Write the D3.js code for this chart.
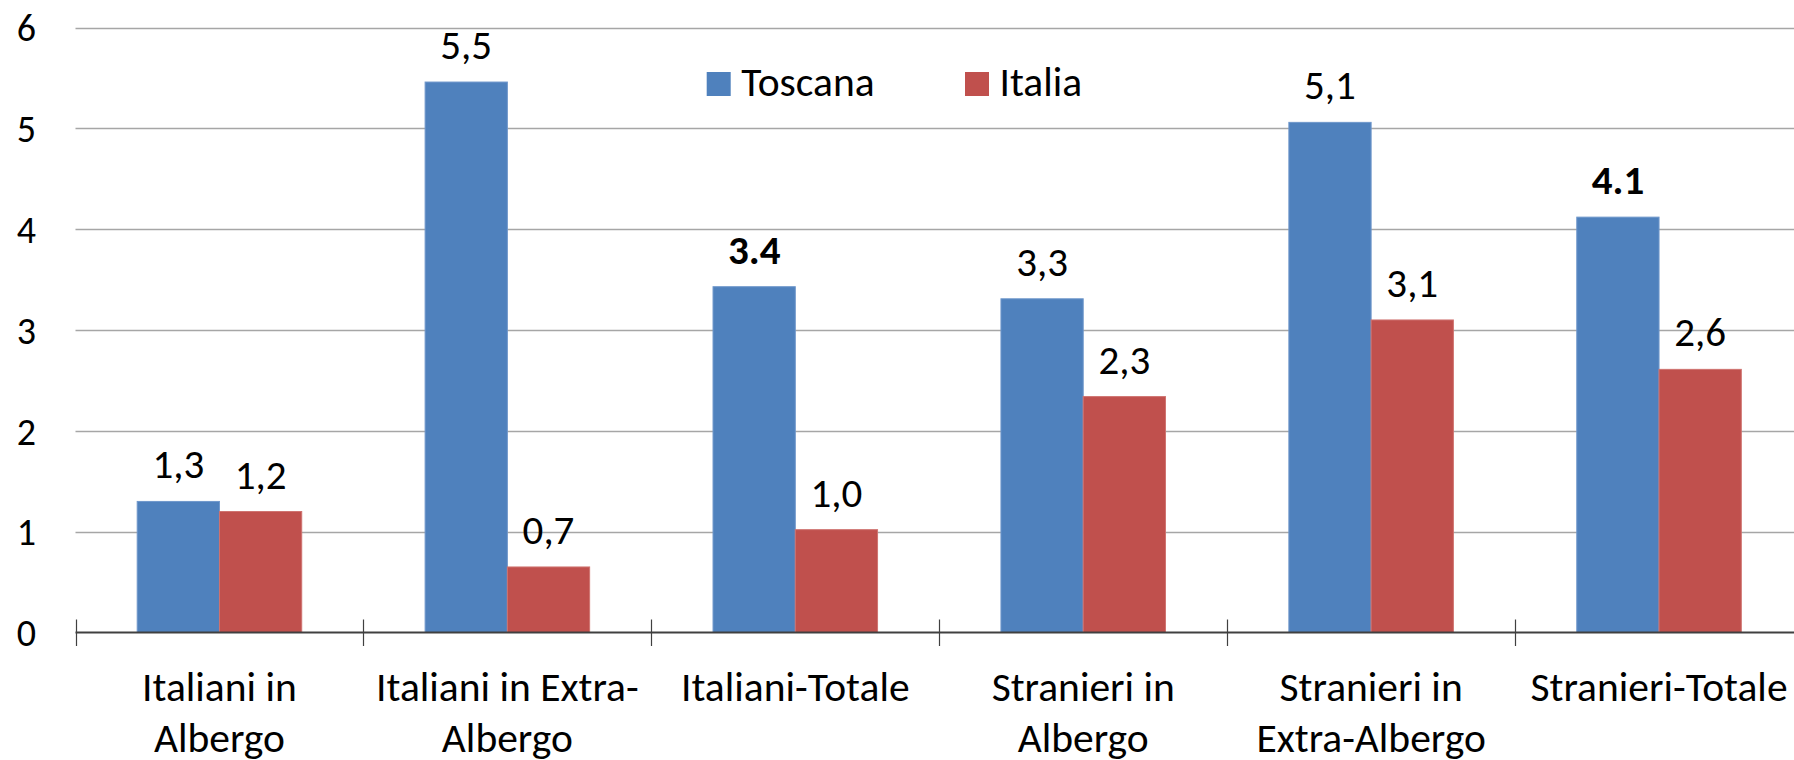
<!DOCTYPE html>
<html>
<head>
<meta charset="utf-8">
<script src="https://cdn.jsdelivr.net/npm/d3@7/dist/d3.min.js"></script>
<style>
  html, body { margin: 0; padding: 0; background: #fff; overflow: hidden; }
  svg { display: block; }
  text { font-family: Carlito, Lato, "Open Sans", sans-serif; fill: #000; }
</style>
</head>
<body>
<svg id="chart" width="1794" height="760"></svg>
<script>
// ---- data ----
const categories = ["Italiani in Albergo", "Italiani in Extra-Albergo", "Italiani-Totale",
                    "Stranieri in Albergo", "Stranieri in Extra-Albergo", "Stranieri-Totale"];
const categoryLines = [["Italiani in", "Albergo"], ["Italiani in Extra-", "Albergo"], ["Italiani-Totale"],
                       ["Stranieri in", "Albergo"], ["Stranieri in", "Extra-Albergo"], ["Stranieri-Totale"]];
const seriesNames = ["Toscana", "Italia"];
const toscana = [1.3, 5.46, 3.43, 3.31, 5.06, 4.12];
const italia = [1.2, 0.65, 1.02, 2.34, 3.1, 2.61];
const toscanaLabels = ["1,3", "5,5", "3.4", "3,3", "5,1", "4.1"];
const italiaLabels = ["1,2", "0,7", "1,0", "2,3", "3,1", "2,6"];
const boldLabels = ["3.4", "4.1"];
const yTicks = [0, 1, 2, 3, 4, 5, 6];
const colors = ["#4F81BD", "#C0504D"];
const strokes = ["#6F97CB", "#CF7370"];

const svg = d3.select("#chart");
const plotLeft = 75.5, plotRight = 1803, plotTop = 27.6, plotBottom = 632.5;

const x0 = d3.scaleBand().domain(categories).range([plotLeft, plotRight]).paddingInner(0).paddingOuter(0);
const x1 = d3.scaleBand().domain(seriesNames).range([0, x0.bandwidth()]).paddingInner(0).paddingOuter(0.75);
const y = d3.scaleLinear().domain([0, 6]).range([plotBottom, plotTop]);

// gridlines
svg.append("g").selectAll("line").data(yTicks.filter(d => d > 0)).join("line")
  .attr("x1", plotLeft).attr("x2", 1794)
  .attr("y1", d => Math.round(y(d)) + 0.5).attr("y2", d => Math.round(y(d)) + 0.5)
  .attr("stroke", "#A6A6A6").attr("stroke-width", 1.6);

// y tick labels
svg.append("g").selectAll("text").data(yTicks).join("text")
  .attr("x", 36).attr("y", d => y(d))
  .attr("dy", "0.36em")
  .attr("text-anchor", "end")
  .style("font-size", "38px")
  .text(d => d);

// bars
const rows = categories.map((c, i) => ({ cat: c, vals: [toscana[i], italia[i]], labels: [toscanaLabels[i], italiaLabels[i]] }));
const groups = svg.append("g").selectAll("g").data(rows).join("g")
  .attr("transform", d => `translate(${x0(d.cat)},0)`);

groups.selectAll("rect").data(d => d.vals.map((v, j) => ({ s: seriesNames[j], v, j }))).join("rect")
  .attr("x", d => x1(d.s))
  .attr("width", x1.bandwidth())
  .attr("y", d => y(d.v))
  .attr("height", d => y(0) - y(d.v))
  .attr("fill", d => colors[d.j])
  .attr("stroke", d => strokes[d.j]).attr("stroke-width", 1);

groups.selectAll("text").data(d => d.labels.map((l, j) => ({ s: seriesNames[j], v: d.vals[j], l }))).join("text")
  .attr("x", d => x1(d.s) + x1.bandwidth() / 2)
  .attr("y", d => y(d.v) - 23)
  .attr("text-anchor", "middle")
  .style("font-size", "41px")
  .style("font-weight", d => boldLabels.includes(d.l) ? "bold" : "normal")
  .text(d => d.l);

// x axis line
svg.append("line").attr("x1", plotLeft).attr("x2", 1794).attr("y1", plotBottom).attr("y2", plotBottom)
  .attr("stroke", "#404040").attr("stroke-width", 1.8);
// cross ticks at category boundaries
const boundaries = categories.map(c => x0(c));
svg.append("g").selectAll("line").data(boundaries).join("line")
  .attr("x1", d => Math.round(d) + 0.5).attr("x2", d => Math.round(d) + 0.5)
  .attr("y1", plotBottom - 13).attr("y2", plotBottom + 13.5)
  .attr("stroke", "#404040").attr("stroke-width", 1.2);

// category labels
const catG = svg.append("g").selectAll("text").data(categories).join("text")
  .attr("text-anchor", "middle")
  .style("font-size", "41.5px");
catG.each(function(c, i) {
  const t = d3.select(this);
  categoryLines[i].forEach((line, k) => {
    t.append("tspan").attr("x", x0(c) + x0.bandwidth() / 2).attr("y", 701 + k * 50.7).text(line);
  });
});

// legend
const legendX = [706.7, 965];
const leg = svg.append("g").selectAll("g").data(seriesNames).join("g")
  .attr("transform", (d, i) => `translate(${legendX[i]},72)`);
leg.append("rect").attr("width", 24).attr("height", 24).attr("fill", (d, i) => colors[i]);
leg.append("text").attr("x", 34.5).attr("y", 23.7).style("font-size", "41.5px").text(d => d);
</script>
</body>
</html>
